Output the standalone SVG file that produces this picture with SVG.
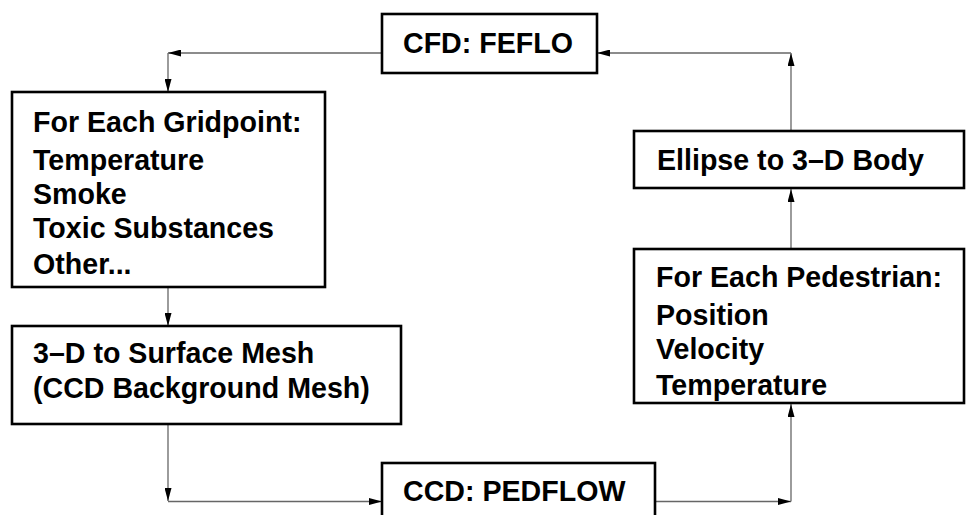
<svg xmlns="http://www.w3.org/2000/svg" width="966" height="515" viewBox="0 0 966 515">
<defs>
<marker id="ah" markerUnits="userSpaceOnUse" markerWidth="13" markerHeight="7" refX="13" refY="3.5" orient="auto">
<path d="M0,0 L13,3.5 L0,7 z" fill="#000"/>
</marker>
<style>
.box{fill:#fff;stroke:#000;stroke-width:2.6}
.t{font-family:"Liberation Sans",Arial,sans-serif;font-weight:bold;font-size:28.6px;fill:#000}
.c line{stroke:#666;stroke-width:1.3;fill:none;marker-end:url(#ah)}
</style>
</defs>
<rect width="966" height="515" fill="#fff"/>
<g class="c" id="connectors">
<line x1="382" y1="53" x2="168" y2="53"/>
<line x1="168" y1="53" x2="168" y2="92"/>
<line x1="168" y1="288" x2="168" y2="326"/>
<line x1="168" y1="425" x2="168" y2="501"/>
<line x1="168" y1="501.5" x2="382" y2="501.5"/>
<line x1="656" y1="501.5" x2="791" y2="501.5"/>
<line x1="791" y1="501.5" x2="791" y2="404"/>
<line x1="791" y1="249" x2="791" y2="189"/>
<line x1="791" y1="131" x2="791" y2="53"/>
<line x1="791" y1="53" x2="597" y2="53"/>
</g>
<g id="cfd">
<rect class="box" x="382" y="14" width="215" height="59"/>
<text class="t" x="403" y="53">CFD: FEFLO</text>
</g>
<g id="gridpoint">
<rect class="box" x="12" y="92" width="313" height="195"/>
<text class="t" x="33" y="132">For Each Gridpoint:</text>
<text class="t" x="33" y="170">Temperature</text>
<text class="t" x="33" y="204">Smoke</text>
<text class="t" x="33" y="238">Toxic Substances</text>
<text class="t" x="33" y="274">Other...</text>
</g>
<g id="mesh">
<rect class="box" x="12" y="326" width="389" height="98"/>
<text class="t" x="33" y="363">3–D to Surface Mesh</text>
<text class="t" x="33" y="398">(CCD Background Mesh)</text>
</g>
<g id="pedflow">
<rect class="box" x="382" y="463" width="273" height="60"/>
<text class="t" x="403" y="501">CCD: PEDFLOW</text>
</g>
<g id="pedestrian">
<rect class="box" x="634" y="249" width="330" height="154"/>
<text class="t" x="656" y="287">For Each Pedestrian:</text>
<text class="t" x="656" y="325">Position</text>
<text class="t" x="656" y="359">Velocity</text>
<text class="t" x="656" y="395">Temperature</text>
</g>
<g id="ellipse">
<rect class="box" x="634" y="131" width="330" height="57"/>
<text class="t" x="657" y="170">Ellipse to 3–D Body</text>
</g>
</svg>
